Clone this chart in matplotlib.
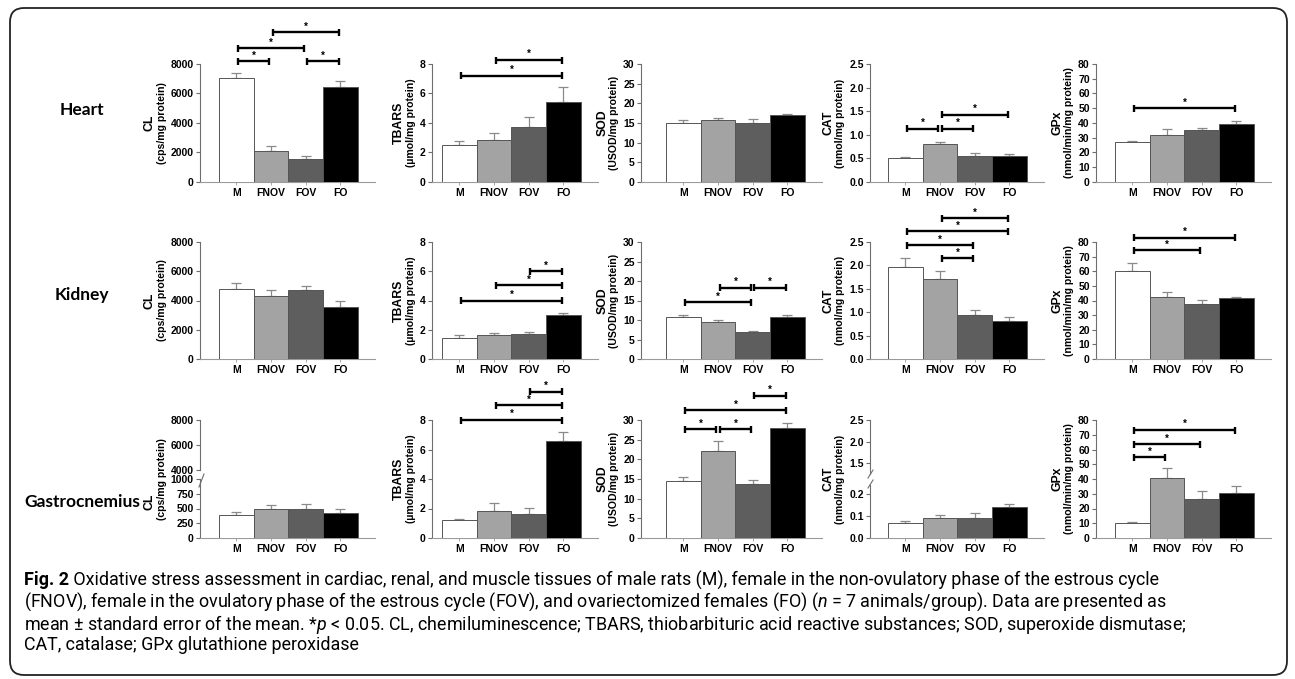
import numpy as np
import matplotlib
matplotlib.use('Agg')
import matplotlib.pyplot as plt
from matplotlib.patches import FancyBboxPatch
from matplotlib.lines import Line2D
from matplotlib.transforms import IdentityTransform

plt.rcParams['font.family'] = ['Liberation Sans', 'DejaVu Sans']
plt.rcParams['font.weight'] = 'bold'
plt.rcParams['mathtext.fontset'] = 'custom'
plt.rcParams['mathtext.rm'] = 'Roboto'
plt.rcParams['mathtext.it'] = 'Roboto:style=italic:weight=normal'
plt.rcParams['mathtext.bf'] = 'Roboto:weight=bold'

groups = ['M', 'FNOV', 'FOV', 'FO']
tissues = ['Heart', 'Kidney', 'Gastrocnemius']

heart_cl = [7050, 2080, 1540, 6460]
heart_cl_err = [350, 370, 250, 380]
heart_tbars = [2.5, 2.85, 3.75, 5.45]
heart_tbars_err = [0.3, 0.45, 0.65, 1.0]
heart_sod = [15.1, 15.7, 15.1, 17.1]
heart_sod_err = [0.6, 0.6, 0.9, 0.3]
heart_cat = [0.50, 0.80, 0.55, 0.55]
heart_cat_err = [0.04, 0.05, 0.06, 0.04]
heart_gpx = [26.8, 32.0, 35.5, 39.3]
heart_gpx_err = [1.0, 3.8, 1.3, 2.3]

kidney_cl = [4800, 4300, 4730, 3560]
kidney_cl_err = [430, 400, 270, 410]
kidney_tbars = [1.45, 1.62, 1.72, 3.0]
kidney_tbars_err = [0.2, 0.17, 0.13, 0.15]
kidney_sod = [10.7, 9.4, 6.9, 10.7]
kidney_sod_err = [0.6, 0.6, 0.35, 0.6]
kidney_cat = [1.96, 1.71, 0.95, 0.82]
kidney_cat_err = [0.2, 0.17, 0.09, 0.07]
kidney_gpx = [60.3, 42.5, 37.8, 41.8]
kidney_gpx_err = [5.5, 3.3, 2.8, 0.8]

gastro_cl = [390, 485, 490, 430]
gastro_cl_err = [55, 70, 85, 65]
gastro_tbars = [1.22, 1.84, 1.6, 6.55]
gastro_tbars_err = [0.1, 0.5, 0.42, 0.65]
gastro_sod = [14.6, 22.1, 13.8, 27.9]
gastro_sod_err = [0.8, 2.6, 1.0, 1.3]
gastro_cat = [0.069, 0.089, 0.089, 0.139]
gastro_cat_err = [0.008, 0.013, 0.024, 0.013]
gastro_gpx = [10.2, 41.0, 26.3, 30.8]
gastro_gpx_err = [0.8, 6.5, 5.3, 4.5]

# significance brackets: (group a, group b, height)
heart_cl_sig = [(0, 1, 8200), (2, 3, 8200), (0, 2, 9060), (1, 3, 10150)]
heart_tbars_sig = [(0, 3, 7.2), (1, 3, 8.27)]
heart_sod_sig = []
heart_cat_sig = [(0, 1, 1.13), (1, 2, 1.13), (1, 3, 1.43)]
heart_gpx_sig = [(0, 3, 50)]
kidney_cl_sig = []
kidney_tbars_sig = [(0, 3, 4.0), (1, 3, 5.05), (2, 3, 6.0)]
kidney_sod_sig = [(0, 2, 14.5), (1, 2, 18.3), (2, 3, 18.3)]
kidney_cat_sig = [(1, 2, 2.15), (0, 2, 2.43), (0, 3, 2.73), (1, 3, 3.01)]
kidney_gpx_sig = [(0, 2, 74.4), (0, 3, 83)]
gastro_cl_sig = []
gastro_tbars_sig = [(0, 3, 8.0), (1, 3, 9.0), (2, 3, 9.9)]
gastro_sod_sig = [(0, 1, 27.7), (1, 2, 27.7), (0, 3, 32.5), (2, 3, 36.2)]
gastro_cat_sig = []
gastro_gpx_sig = [(0, 1, 54.6), (0, 2, 63.5), (0, 3, 73.2)]

measures = ['CL', 'TBARS', 'SOD', 'CAT', 'GPx']
units = ['(cps/mg protein)', '(\u00b5mol/mg protein)', '(USOD/mg protein)',
         '(nmol/mg protein)', '(nmol/min/mg protein)']
col_ylim = [(0, 8000), (0, 8), (0, 30), (0, 2.5), (0, 80)]
col_ticks = [[0, 2000, 4000, 6000, 8000], [0, 2, 4, 6, 8], [0, 5, 10, 15, 20, 25, 30],
             [0.0, 0.5, 1.0, 1.5, 2.0, 2.5], [0, 10, 20, 30, 40, 50, 60, 70, 80]]
col_fmt = ['%d', '%d', '%d', '%.1f', '%d']

cl_low_ticks = [0, 250, 500, 750, 1000]
cl_high_ticks = [4000, 6000, 8000]
cat_low_ticks = [0.0, 0.1, 0.2]
cat_high_ticks = [1.5, 2.0, 2.5]

caption_head = 'Fig. 2'
caption = [
    ' Oxidative stress assessment in cardiac, renal, and muscle tissues of male rats (M), female in the non-ovulatory phase of the estrous cycle',
    r'(FNOV), female in the ovulatory phase of the estrous cycle (FOV), and ovariectomized females (FO) ($n$ = 7 animals/group). Data are presented as',
    r'mean ± standard error of the mean. *$p$ < 0.05. CL, chemiluminescence; TBARS, thiobarbituric acid reactive substances; SOD, superoxide dismutase;',
    'CAT, catalase; GPx glutathione peroxidase',
]

table = [
    [(heart_cl, heart_cl_err, heart_cl_sig), (heart_tbars, heart_tbars_err, heart_tbars_sig),
     (heart_sod, heart_sod_err, heart_sod_sig), (heart_cat, heart_cat_err, heart_cat_sig),
     (heart_gpx, heart_gpx_err, heart_gpx_sig)],
    [(kidney_cl, kidney_cl_err, kidney_cl_sig), (kidney_tbars, kidney_tbars_err, kidney_tbars_sig),
     (kidney_sod, kidney_sod_err, kidney_sod_sig), (kidney_cat, kidney_cat_err, kidney_cat_sig),
     (kidney_gpx, kidney_gpx_err, kidney_gpx_sig)],
    [(gastro_cl, gastro_cl_err, gastro_cl_sig), (gastro_tbars, gastro_tbars_err, gastro_tbars_sig),
     (gastro_sod, gastro_sod_err, gastro_sod_sig), (gastro_cat, gastro_cat_err, gastro_cat_sig),
     (gastro_gpx, gastro_gpx_err, gastro_gpx_sig)],
]

# layout in pixels
W, H = 1295, 679
col_axis = [200, 432, 641, 870, 1096]
col_bar0 = [219, 442, 666, 888, 1115]
bar_px = 34.7
row_top = [64, 242, 420]
row_zero = [182, 359, 538]
row_lab_y = [110, 295, 502]
bar_colors = ['white', '#a3a3a3', '#5e5e5e', 'black']
spine_c = '#6e6e6e'
tick_fs = 7.5

fig = plt.figure(figsize=(W / 100, H / 100), dpi=100)


def px_axes(left, right, top, bottom):
    return fig.add_axes([left / W, 1 - bottom / H, (right - left) / W, (bottom - top) / H])


def style(ax, c, ticks, fmt, lim, xaxis=True):
    ax.set_xlim(-0.5 - (col_bar0[c] - col_axis[c]) / bar_px, 3.5 + 17 / bar_px)
    ax.set_ylim(*lim)
    ax.set_yticks(ticks)
    ax.set_yticklabels([fmt % t for t in ticks])
    for s in ['top', 'right']:
        ax.spines[s].set_visible(False)
    ax.spines['left'].set_color(spine_c)
    ax.spines['left'].set_linewidth(0.8)
    ax.tick_params(axis='y', length=3, width=0.8, color=spine_c, pad=1.5, labelsize=tick_fs)
    ax.patch.set_alpha(0)
    if xaxis:
        ax.spines['bottom'].set_color('#9a9a9a')
        ax.spines['bottom'].set_linewidth(0.8)
        ax.set_xticks(range(4))
        ax.set_xticklabels(groups)
        ax.tick_params(axis='x', length=2, width=0.6, color='#9a9a9a', pad=2.5, labelsize=tick_fs)
    else:
        ax.spines['bottom'].set_visible(False)
        ax.set_xticks([])


def bars(ax, vals, errs):
    x = np.arange(4)
    ax.bar(x, vals, width=1.0, color=bar_colors, edgecolor='#555555', linewidth=0.7, zorder=3)
    ax.errorbar(x, vals, yerr=[np.zeros(4), errs], fmt='none', ecolor='#8a8a8a',
                elinewidth=0.9, capsize=3.5, capthick=0.9, zorder=2)


def brackets(ax, sig, ppx):
    for a, b, y in sig:
        x1, x2 = a + 0.05, b - 0.05
        ax.plot([x1, x2], [y, y], color='black', lw=1.7, clip_on=False, zorder=5,
                solid_capstyle='butt')
        for xx in (x1, x2):
            ax.plot([xx, xx], [y - 3.5 * ppx, y + 3.5 * ppx], color='black', lw=1.7,
                    clip_on=False, zorder=5, solid_capstyle='butt')
        ax.annotate('*', xy=((a + b) / 2, y), xytext=(0, 0.5), textcoords='offset points',
                    ha='center', va='bottom', fontsize=7, fontweight='bold', annotation_clip=False)


def slash(x0, y0, x1, y1):
    fig.add_artist(Line2D([x0, x1], [H - y0, H - y1], color=spine_c, lw=0.8,
                          transform=IdentityTransform()))


panels = []
for r in range(3):
    fig.text(82 / W, 1 - row_lab_y[r] / H, tissues[r], ha='center', va='center',
             fontsize=12.5, fontweight='bold', family=['Lato', 'DejaVu Sans'])
    for c in range(5):
        vals, errs, sig = table[r][c]
        left = col_axis[c]
        right = col_bar0[c] + 4 * bar_px + 17
        top, zero = row_top[r], row_zero[r]
        if r == 2 and c in (0, 3):
            if c == 0:
                low_top, high_bot = 479, 470
                low_lim, high_lim = (0, 1000), (4000, 8000)
                low_t, high_t, fmt = cl_low_ticks, cl_high_ticks, '%d'
            else:
                low_top, high_bot = 485, 474
                low_lim, high_lim = (0, 0.24), (1.25, 2.5)
                low_t, high_t, fmt = cat_low_ticks, cat_high_ticks, '%.1f'
            ax = px_axes(left, right, low_top, zero)
            style(ax, c, low_t, fmt, low_lim)
            bars(ax, vals, errs)
            ax2 = px_axes(left, right, top, high_bot)
            style(ax2, c, high_t, fmt, high_lim, xaxis=False)
            if c == 0:
                slash(left - 1, 487, left + 4, 474)
            else:
                slash(left - 2, 488, left + 3, 480)
                slash(left - 2, 478, left + 3, 470)
            panels.append((r, c, [ax, ax2]))
            continue
        ax = px_axes(left, right, top, zero)
        style(ax, c, col_ticks[c], col_fmt[c], col_ylim[c])
        bars(ax, vals, errs)
        ppx = (col_ylim[c][1] - col_ylim[c][0]) / (zero - top)
        brackets(ax, sig, ppx)
        panels.append((r, c, [ax]))

# axis titles placed just left of the tick labels
fig.canvas.draw()
renderer = fig.canvas.get_renderer()
for r, c, axs in panels:
    x_left = min(t.get_window_extent(renderer).x0 for a in axs for t in a.get_yticklabels())
    yc = (row_top[r] + row_zero[r]) / 2
    unit_x = x_left - 9
    fig.text(unit_x / W, 1 - yc / H, units[c], rotation=90, ha='center', va='center',
             fontsize=7.6, fontweight='bold')
    name_y = row_lab_y[r] if (r == 2 and c == 0) else yc
    fig.text((unit_x - 12) / W, 1 - name_y / H, measures[c], rotation=90, ha='center',
             va='center', fontsize=8.8, fontweight='bold')

# outer rounded frame
fig.add_artist(FancyBboxPatch((10, 4), 1277, 667, boxstyle='round,pad=0,rounding_size=14',
                              transform=IdentityTransform(), fill=False, ec='#222222', lw=1.3))

# caption
cap_y = [580, 602, 624, 645]
cap_x = 24
fs = 12
head = fig.text(cap_x / W, 1 - cap_y[0] / H, caption_head, ha='left', va='center',
                fontsize=fs, fontweight='bold', family='Roboto')
texts = [fig.text(cap_x / W, 1 - y / H, line, ha='left', va='center', fontsize=fs,
                  fontweight='normal', family='Roboto') for line, y in zip(caption, cap_y)]
fig.canvas.draw()
wh = head.get_window_extent(renderer).width
w1 = texts[0].get_window_extent(renderer).width
fs = fs * 1139 / (wh + w1)
head.set_fontsize(fs)
for t in texts:
    t.set_fontsize(fs)
fig.canvas.draw()
wh = head.get_window_extent(renderer).width
texts[0].set_x((cap_x + wh) / W)

fig.savefig('out.png', dpi=100)
